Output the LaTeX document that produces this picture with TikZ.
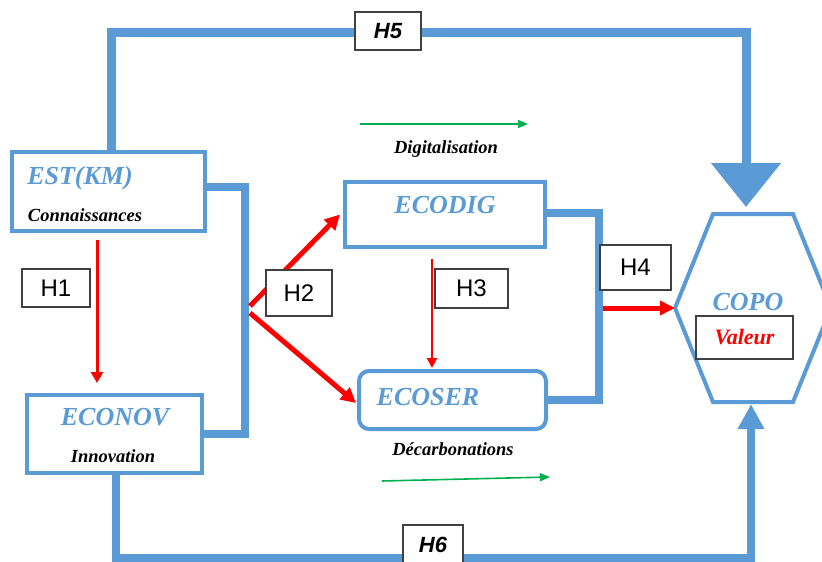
\documentclass[tikz,border=0pt]{standalone}
\usepackage{fontspec}
\setmainfont{Liberation Serif}
\setsansfont{Liberation Sans}
\usetikzlibrary{arrows.meta,calc}
\definecolor{bl}{HTML}{5B9BD5}
\definecolor{gr}{HTML}{00B050}
\begin{document}
\begin{tikzpicture}[x=1pt,y=-1pt,
  mainbox/.style={draw=bl,line width=4pt,inner sep=0pt,outer sep=0pt},
  title/.style={font=\fontsize{26}{30}\selectfont\bfseries\itshape,text=bl,inner sep=0pt,anchor=base},
  sub/.style={font=\fontsize{18.5}{22}\selectfont\bfseries\itshape,text=black,inner sep=0pt,anchor=base},
  hbox/.style={draw=black!75,line width=1.3pt,fill=white,inner sep=0pt,font=\fontsize{24}{28}\selectfont\sffamily},
  hboxi/.style={hbox,font=\fontsize{22}{26}\selectfont\sffamily\bfseries\itshape},
  bluelink/.style={draw=bl,line width=9pt},
  bracket/.style={draw=bl,line width=8pt},
  redarrow/.style={draw=red,line width=#1},
  greenarrow/.style={draw=gr,line width=1.6pt,-{Triangle[length=10pt,width=8pt]}}
]
\useasboundingbox (0,0) rectangle (822,562);

% coordinates
\coordinate (hexL) at (675,308);
\coordinate (hexTL) at (713,214);
\coordinate (hexTR) at (793,214);
\coordinate (hexR) at (831,308);
\coordinate (hexBR) at (793,402);
\coordinate (hexBL) at (713,402);
\coordinate (tTop) at (746,207);
\coordinate (topR) at (746,32);
\coordinate (tBot) at (751,404);
\coordinate (botR) at (751,558);
\coordinate (lb) at (245,300);
\coordinate (rb) at (599,300);
\coordinate (h2a) at (250,306);
\coordinate (h2b) at (250,313);
\coordinate (g1a) at (360,124);
\coordinate (g1b) at (528,124);
\coordinate (g2a) at (382,481);
\coordinate (g2b) at (550,477);

% main boxes
\node[mainbox,minimum width=193pt,minimum height=79pt] (est) at (108.5,191.5) {};
\node[mainbox,minimum width=175pt,minimum height=78pt] (econov) at (114.5,434) {};
\node[mainbox,minimum width=200pt,minimum height=65pt] (ecodig) at (445,214.5) {};
\node[mainbox,rounded corners=10pt,minimum width=187pt,minimum height=58pt] (ecoser) at (452.5,400) {};

% hexagon
\draw[bl,line width=4pt] (hexL) -- (hexTL) -- (hexTR) -- (hexR) -- (hexBR) -- (hexBL) -- cycle;

% blue links
\draw[bluelink,-{Triangle[length=44pt,width=68pt]}] ([xshift=2.5pt]est.north) |- (topR) -- (tTop);
\draw[bracket,line width=8pt,-{Triangle[length=25pt,width=25pt]}] ([xshift=1.5pt]econov.south) |- (botR) -- (tBot);
\draw[bracket] ([yshift=4.5pt]est.east) -| (lb) |- (econov.east);
\draw[bracket] ([yshift=1.5pt]ecodig.east) -| (rb) |- (ecoser.east);

% texts
\node[title] (tEst) at (80,184) {EST(KM)};
\node[sub] (tCon) at (85,221) {Connaissances};
\node[title] (tEconov) at (115,425) {ECONOV};
\node[sub] (tInn) at (113,462) {Innovation};
\node[title] (tEcodig) at (445,213) {ECODIG};
\node[title] (tEcoser) at (428,405) {ECOSER};
\node[title] (copo) at (748,310) {COPO};
\node[sub] (tDig) at (446,153) {Digitalisation};
\node[sub] (tDec) at (453,455) {Décarbonations};

% red arrows
\draw[redarrow=3pt,-{Triangle[length=11pt,width=12pt]}] ([xshift=-11.5pt,yshift=-9pt]est.south) -- ([xshift=-17.5pt,yshift=12pt]econov.north);
\draw[redarrow=5pt,-{Triangle[length=15pt,width=15pt]}] (h2a) -- ([xshift=-5pt]ecodig.west);
\draw[redarrow=5pt,-{Triangle[length=15pt,width=15pt]}] (h2b) -- ([xshift=-3pt,yshift=-3pt]ecoser.west);
\draw[redarrow=2pt,-{Triangle[length=10pt,width=10pt]}] ([xshift=-13pt,yshift=-12pt]ecodig.south) -- ([xshift=-20.5pt,yshift=3pt]ecoser.north);
\draw[redarrow=5pt,-{Triangle[length=15pt,width=14pt]}] ([xshift=4pt]rb |- hexL) -- (hexL);

% green arrows
\draw[greenarrow] (g1a) -- (g1b);
\draw[greenarrow] (g2a) -- (g2b);

% hypothesis labels
\node[hbox,minimum width=68pt,minimum height=38pt] (H1) at (56,288) {H1};
\node[hbox,minimum width=66pt,minimum height=46pt] (H2) at (299,293) {H2};
\node[hbox,minimum width=73pt,minimum height=39pt] (H3) at (471.5,288.5) {H3};
\node[hbox,minimum width=71pt,minimum height=45pt] (H4) at (635.5,267.5) {H4};
\node[hboxi,minimum width=66pt,minimum height=38pt] (H5) at (388,31) {H5};
\node[hboxi,minimum width=60pt,minimum height=40pt] (H6) at (433,545) {H6};
\node[hbox,minimum width=97pt,minimum height=43pt,font=\fontsize{22}{26}\selectfont\bfseries\itshape,text=red] (val) at (744.5,337.5) {Valeur};
\end{tikzpicture}
\end{document}
